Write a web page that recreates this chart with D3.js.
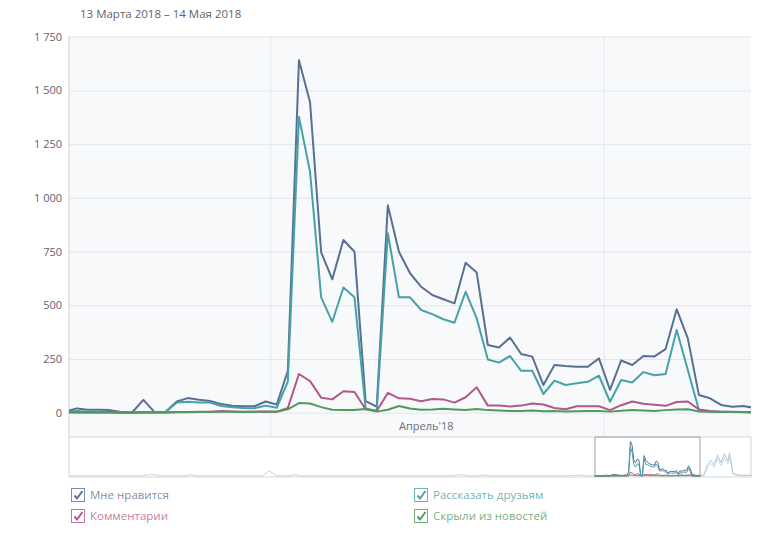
<!DOCTYPE html>
<html>
<head>
<meta charset="utf-8">
<script src="https://cdnjs.cloudflare.com/ajax/libs/d3/7.8.5/d3.min.js"></script>
<style>
  body { margin: 0; background: #fff; }
  svg { font-family: "Open Sans", sans-serif; }
</style>
</head>
<body>
<svg width="771" height="533"></svg>
<script>
// Dias do período (13 de março a 14 de maio de 2018)
var dias = d3.utcDay.range(Date.UTC(2018, 2, 13), Date.UTC(2018, 4, 15));

// Séries diárias
var curtidas = [5, 20, 14, 14, 12, 3, 2, 60, 3, 4,
                52, 68, 60, 55, 40, 32, 30, 30, 52, 38,
                195, 1640, 1445, 746, 621, 804, 749, 54, 28, 965,
                749, 649, 586, 548, 528, 509, 698, 652, 315, 303,
                350, 273, 261, 129, 222, 217, 214, 214, 253, 106,
                243, 222, 264, 262, 296, 481, 346, 82, 67, 36,
                28, 31, 22];
var compartilhamentos = [3, 8, 5, 5, 3, 2, 1, 3, 2, 3,
                48, 51, 47, 47, 31, 25, 22, 21, 33, 23,
                145, 1377, 1121, 537, 423, 583, 537, 20, 8, 835,
                537, 537, 478, 459, 435, 419, 563, 439, 248, 233,
                264, 195, 195, 87, 149, 129, 137, 144, 172, 51,
                152, 141, 189, 174, 180, 385, 199, 13, 5, 4,
                3, 3, 2];
var comentarios = [2, 2, 1, 1, 1, 0, 0, 1, 1, 1,
                3, 3, 4, 5, 8, 6, 5, 5, 6, 5,
                22, 180, 147, 70, 62, 100, 96, 16, 8, 92,
                67, 65, 53, 64, 62, 47, 72, 118, 33, 33,
                29, 33, 43, 38, 22, 16, 30, 30, 30, 12,
                35, 52, 42, 37, 32, 50, 52, 15, 8, 5,
                4, 3, 2];
var ocultaram = [1, 1, 1, 1, 1, 1, 1, 1, 1, 1,
                2, 2, 3, 3, 4, 4, 3, 4, 5, 4,
                16, 45, 43, 26, 14, 13, 13, 17, 5, 14,
                31, 20, 14, 15, 18, 15, 13, 17, 12, 10,
                8, 8, 10, 7, 8, 6, 7, 8, 8, 5,
                9, 12, 10, 8, 12, 15, 16, 6, 4, 3,
                3, 2, 2];

var nomesSeries = ["Мне нравится", "Рассказать друзьям", "Комментарии", "Скрыли из новостей"];
var coresSeries = ["#587193", "#47a1a8", "#b3568a", "#519a5d"];
var valoresSeries = [curtidas, compartilhamentos, comentarios, ocultaram];

// Navegador: trechos fora da janela (esmaecidos)
var navAntesDatas = ["2017-05-10", "2017-06-22", "2017-06-27", "2017-07-02", "2017-07-16", "2017-07-20",
                     "2017-07-24", "2017-08-31", "2017-09-04", "2017-09-08", "2017-09-16", "2017-09-19",
                     "2017-09-23", "2017-12-20", "2017-12-25", "2017-12-30", "2018-01-04", "2018-01-07",
                     "2018-01-11", "2018-02-28", "2018-03-04", "2018-03-08", "2018-03-13"];
var navAntesValores = [5, 8, 80, 8, 6, 60, 6, 8, 250, 10, 8, 60, 6, 8, 60, 8, 8, 50, 6, 8, 50, 8, 5];
var navDepoisDatas = ["2018-05-14", "2018-05-16", "2018-05-18", "2018-05-20", "2018-05-22", "2018-05-24",
                      "2018-05-26", "2018-05-28", "2018-05-30", "2018-05-31", "2018-06-02", "2018-06-05",
                      "2018-06-13"];
var navDepoisCurtidas = [22, 60, 500, 750, 520, 1000, 620, 1050, 700, 1100, 120, 40, 30];
var navDepoisCompart = [2, 40, 380, 600, 400, 820, 480, 860, 560, 900, 80, 20, 15];

var ticksY = [0, 250, 500, 750, 1000, 1250, 1500, 1750];

var svg = d3.select("svg");

// Área do gráfico principal
const esquerda = 69, direita = 751, topo = 36, base = 436;
var inicioJanela = Date.UTC(2018, 2, 13, 20, 17),
    fimJanela = Date.UTC(2018, 4, 14, 5, 30);

var x = d3.scaleUtc().domain([inicioJanela, fimJanela]).range([esquerda, direita]);
var y = d3.scaleLinear().domain([0, 1750]).range([412.7, 36.7]);

// horário do ponto diário dentro do dia
function momento(d) { return d3.utcHour.offset(d, 13); }

svg.append("text")
    .attr("x", 80).attr("y", 18)
    .attr("font-size", 11.5).attr("fill", "#5f6368")
    .text("13 Марта 2018 – 14 Мая 2018");

svg.append("rect")
    .attr("x", esquerda).attr("y", topo)
    .attr("width", direita - esquerda).attr("height", base - topo)
    .attr("fill", "#f8f9fb");

svg.append("clipPath").attr("id", "recorte")
  .append("rect")
    .attr("x", esquerda).attr("y", topo - 5)
    .attr("width", direita - esquerda).attr("height", base - topo + 5);

// Grade horizontal + rótulos do eixo Y
var eixoY = svg.append("g")
    .attr("transform", "translate(" + esquerda + ",0)")
    .call(d3.axisLeft(y)
      .tickValues(ticksY)
      .tickSize(-(direita - esquerda))
      .tickPadding(7)
      .tickFormat(function(d){ return d3.format(",")(d).replace(",", "\u00a0"); }));
eixoY.select(".domain").remove();
eixoY.selectAll("line").attr("stroke", "#e3e6ec");
eixoY.selectAll("text")
    .attr("font-size", 11).attr("fill", "#5f6368")
    .attr("font-family", "\"Open Sans\", sans-serif");

// Grade vertical nos inícios de mês
var meses = d3.utcMonth.range(inicioJanela, fimJanela);
svg.append("g").selectAll("line")
    .data(meses)
    .enter().append("line")
      .attr("x1", function(d){ return x(d); })
      .attr("x2", function(d){ return x(d); })
      .attr("y1", topo).attr("y2", base)
      .attr("stroke", "#e3e6ec");

// Rótulo do mês no meio do mês (apenas meses inteiros na janela)
svg.append("g").selectAll("text")
    .data(meses.filter(function(m){ return d3.utcMonth.offset(m, 1) <= fimJanela; }))
    .enter().append("text")
      .attr("x", function(d){ return x(d3.utcDay.offset(d, 14)); })
      .attr("y", 430)
      .attr("text-anchor", "middle")
      .attr("font-size", 11).attr("fill", "#6b7075")
      .text(function(d){ return d3.utcFormat("%m")(d) == "04" ? "Апрель'18" : ""; });

svg.append("line")
    .attr("x1", esquerda).attr("x2", esquerda)
    .attr("y1", topo).attr("y2", base)
    .attr("stroke", "#c9cdd2");

// Linhas das séries
var linha = d3.line()
    .x(function(d, i){ return x(momento(dias[i])); })
    .y(function(d){ return y(d); });

svg.append("g")
    .attr("clip-path", "url(#recorte)")
  .selectAll("path")
  .data(valoresSeries)
  .enter().append("path")
    .attr("d", function(d){ return linha(d); })
    .attr("fill", "none")
    .attr("stroke", function(d, i){ return coresSeries[i]; })
    .attr("stroke-width", 2)
    .attr("stroke-linejoin", "round");

// Navegador
const navTopo = 437, navBase = 477;
var xn = d3.scaleUtc()
    .domain([Date.UTC(2017, 4, 10, 9), Date.UTC(2018, 5, 13, 1)])
    .range([esquerda, direita]);
var yn = d3.scaleLinear().domain([0, 1750]).range([476, 439]);

svg.append("rect")
    .attr("x", esquerda).attr("y", navTopo)
    .attr("width", direita - esquerda).attr("height", navBase - navTopo)
    .attr("fill", "#fff").attr("stroke", "#d3d6da");

var linhaNav = d3.line()
    .x(function(d){ return xn(d[0]); })
    .y(function(d){ return yn(d[1]); });

function pares(datas, valores) {
  return datas.map(function(s, i){ return [new Date(s + "T12:00:00Z"), valores[i]]; });
}

svg.append("path")
    .attr("d", linhaNav(pares(navAntesDatas, navAntesValores)))
    .attr("fill", "none").attr("stroke", "#c3d3e0").attr("stroke-width", 1);
svg.append("path")
    .attr("d", linhaNav(pares(navDepoisDatas, navDepoisCompart)))
    .attr("fill", "none").attr("stroke", "#c9e0e4").attr("stroke-width", 1);
svg.append("path")
    .attr("d", linhaNav(pares(navDepoisDatas, navDepoisCurtidas)))
    .attr("fill", "none").attr("stroke", "#b4c7da").attr("stroke-width", 1);

svg.append("g").selectAll("path")
  .data(valoresSeries)
  .enter().append("path")
    .attr("d", function(v){
      return linhaNav(v.map(function(d, i){ return [momento(dias[i]), d]; }));
    })
    .attr("fill", "none")
    .attr("stroke", function(d, i){ return coresSeries[i]; })
    .attr("stroke-width", 1);

// Janela selecionada no navegador
svg.append("g").selectAll("line")
    .data([inicioJanela, fimJanela])
    .enter().append("line")
      .attr("x1", function(d){ return xn(d); })
      .attr("x2", function(d){ return xn(d); })
      .attr("y1", navTopo).attr("y2", navBase)
      .attr("stroke", "#9ea3a8");
svg.append("line")
    .attr("x1", xn(inicioJanela)).attr("x2", xn(fimJanela))
    .attr("y1", navTopo).attr("y2", navTopo)
    .attr("stroke", "#9ea3a8");

// Legenda com caixas marcadas
var posLegenda = [[71, 488], [414, 488], [71, 509], [414, 509]];
var legenda = svg.append("g").selectAll("g")
    .data(nomesSeries)
    .enter().append("g")
      .attr("transform", function(d, i){ return "translate(" + posLegenda[i][0] + "," + posLegenda[i][1] + ")"; });

legenda.append("rect")
    .attr("x", 0.5).attr("y", 0.5)
    .attr("width", 13).attr("height", 13)
    .attr("fill", "#fff")
    .attr("stroke", function(d, i){ return coresSeries[i]; })
    .attr("stroke-opacity", 0.8);
legenda.append("path")
    .attr("d", "M3.5,7.5 L6,10.5 L11.5,3")
    .attr("fill", "none")
    .attr("stroke", function(d, i){ return coresSeries[i]; })
    .attr("stroke-width", 2);
legenda.append("text")
    .attr("x", 19).attr("y", 11)
    .attr("font-size", 11.5)
    .attr("fill", function(d, i){ return coresSeries[i]; })
    .attr("fill-opacity", 0.8)
    .text(function(d){ return d; });
</script>
</body>
</html>
